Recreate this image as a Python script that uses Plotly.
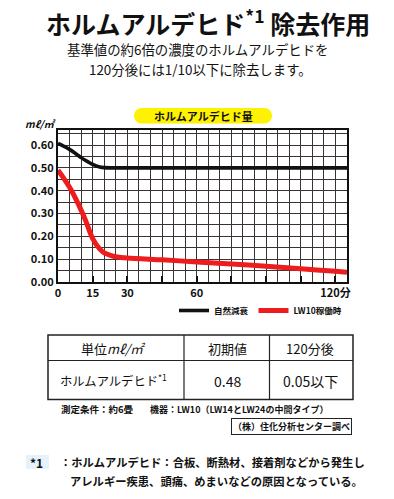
import plotly.graph_objects as go

# ---- data ----
minutes = [0, 2, 5, 8, 10, 12, 15, 18, 20, 23, 25, 30, 45, 60, 75, 90, 105, 120, 125]
natural_decay = [0.607, 0.598, 0.581, 0.560, 0.545, 0.532, 0.515, 0.504, 0.501, 0.500,
                 0.500, 0.500, 0.500, 0.500, 0.500, 0.500, 0.500, 0.500, 0.500]
lw10_running = [0.490, 0.462, 0.415, 0.358, 0.315, 0.268, 0.190, 0.145, 0.128, 0.116,
                0.111, 0.105, 0.097, 0.088, 0.079, 0.069, 0.058, 0.047, 0.043]
series_names = ["自然減衰", "LW10稼働時"]
x_tickvals = [0, 15, 30, 60, 120]
x_ticktext = ["0", "15", "30", "60", "120分"]
y_tickvals = [0.0, 0.1, 0.2, 0.3, 0.4, 0.5, 0.6]
y_ticktext = ["0.00", "0.10", "0.20", "0.30", "0.40", "0.50", "0.60"]
table_header = ["単位<i>mℓ/㎡</i>", "初期値", "120分後"]
table_row = ["ホルムアルデヒド<sup>*1</sup>", "0.48", "0.05以下"]

W, H = 394, 499
JP = "Noto Sans CJK JP"


def px(x):
    return x / W


def py(y):
    return 1 - y / H


fig = go.Figure()
fig.add_trace(go.Scatter(x=minutes, y=natural_decay, mode="lines", name=series_names[0],
                         line=dict(color="#111111", width=3.6, shape="spline", smoothing=0.8)))
fig.add_trace(go.Scatter(x=minutes, y=lw10_running, mode="lines", name=series_names[1],
                         line=dict(color="#ee1c1c", width=5, shape="spline", smoothing=0.8)))
# helper traces so the overlay axes (grid / minor ticks) exist
fig.add_trace(go.Scatter(x=[None], y=[None], xaxis="x2", yaxis="y2", showlegend=False,
                         hoverinfo="skip", mode="lines"))
fig.add_trace(go.Scatter(x=[None], y=[None], xaxis="x3", yaxis="y2", showlegend=False,
                         hoverinfo="skip", mode="lines"))

grid_c = "#3a3333"
XR, YR = [0, 125], [0, 0.666]
fig.update_layout(
    width=W, height=H, autosize=False,
    margin=dict(l=0, r=0, t=0, b=0),
    paper_bgcolor="white", plot_bgcolor="white",
    font=dict(family=JP, color="#111111"),
    showlegend=True,
    legend=dict(orientation="h", x=px(174), y=py(296), xanchor="left", yanchor="top",
                font=dict(size=8.5, family=JP, weight="bold"), itemwidth=30,
                bgcolor="rgba(0,0,0,0)"),
    xaxis=dict(domain=[px(58), px(347)], range=XR, tickmode="array", automargin=False,
               tickvals=x_tickvals, ticktext=x_ticktext, ticks="", showline=True,
               linecolor="#111", linewidth=2, mirror=True, showgrid=False, zeroline=False,
               tickfont=dict(size=11, family=JP, weight="bold", color="#111")),
    yaxis=dict(domain=[py(282), py(130)], range=YR, tickmode="array", automargin=False,
               tickvals=y_tickvals, ticktext=y_ticktext, ticks="", showline=True,
               linecolor="#111", linewidth=2, mirror=True, showgrid=False, zeroline=False,
               tickfont=dict(size=11, family=JP, weight="bold", color="#111")),
    xaxis2=dict(overlaying="x", anchor="y2", range=XR, tickmode="linear", tick0=0, dtick=5,
                showgrid=True, gridcolor=grid_c, gridwidth=1, showticklabels=False,
                ticks="", zeroline=False, showline=False, automargin=False),
    xaxis3=dict(overlaying="x", anchor="y2", range=XR, tickmode="linear", tick0=0, dtick=15,
                showgrid=False, showticklabels=False, ticks="inside", ticklen=6, tickwidth=2,
                tickcolor="#111", zeroline=False, showline=False, automargin=False),
    yaxis2=dict(overlaying="y", anchor="x2", range=YR, tickmode="linear", tick0=0,
                dtick=0.05, showgrid=True, gridcolor=grid_c, gridwidth=1,
                showticklabels=False, ticks="", zeroline=False, showline=False,
                automargin=False),
)

ann = []


def text(x, y, s, size, weight="normal", xanchor="center", color="#111111", **kw):
    ann.append(dict(x=px(x), y=py(y), xref="paper", yref="paper", text=s, showarrow=False,
                    xanchor=xanchor, yanchor="middle",
                    font=dict(size=size, family=JP, weight=weight, color=color), **kw))


# title & subtitle
text(208, 22, "ホルムアルデヒド<sup>*1</sup> 除去作用", 25, "bold")
text(198, 49.3, "基準値の約6倍の濃度のホルムアルデヒドを", 13.4)
text(200, 69, "120分後には1/10以下に除去します。", 13.4)

# yellow pill label
shapes = []


def pill(x0, y0, x1, y1, color):
    r = (y1 - y0) / 2
    k = 0.5523 * r
    pts = [
        ("M", [(x0 + r, y0)]),
        ("L", [(x1 - r, y0)]),
        ("C", [(x1 - r + k, y0), (x1, y0 + r - k), (x1, y0 + r)]),
        ("C", [(x1, y0 + r + k), (x1 - r + k, y1), (x1 - r, y1)]),
        ("L", [(x0 + r, y1)]),
        ("C", [(x0 + r - k, y1), (x0, y0 + r + k), (x0, y0 + r)]),
        ("C", [(x0, y0 + r - k), (x0 + r - k, y0), (x0 + r, y0)]),
    ]
    path = ""
    for cmd, ps in pts:
        path += cmd + " " + " ".join(f"{px(a):.5f},{py(b):.5f}" for a, b in ps) + " "
    path += "Z"
    shapes.append(dict(type="path", path=path, xref="paper", yref="paper",
                       fillcolor=color, line=dict(width=0)))


pill(134, 108, 272, 123.5, "#fff200")
text(203, 116, "ホルムアルデヒド量", 11, "bold")

# y unit
text(40, 123, "<i>mℓ/㎡</i>", 10, "bold")

# table
tl, tr, tt, tm, tb = 48, 353, 335, 360.5, 399.5
c1, c2 = 184, 269.5
for (x0, y0, x1, y1) in [(tl, tm, tr, tm), (c1, tt, c1, tb), (c2, tt, c2, tb)]:
    shapes.append(dict(type="line", xref="paper", yref="paper", x0=px(x0), y0=py(y0),
                       x1=px(x1), y1=py(y1), line=dict(color="#222", width=1.2)))
shapes.append(dict(type="rect", xref="paper", yref="paper", x0=px(tl), y0=py(tt),
                   x1=px(tr), y1=py(tb), line=dict(color="#222", width=1.5)))
col_x = [114, 227, 310]
for cx, s in zip(col_x, table_header):
    text(cx, 348.5, s, 13)
for cx, s, fs in zip(col_x, table_row, [12.3, 14, 14]):
    text(cx, 380.5, s, fs)

# notes
text(59, 409, "測定条件：約6畳", 9.5, "bold", xanchor="left")
text(148, 409, "機器：LW10（LW14とLW24の中間タイプ）", 9, "bold", xanchor="left")
text(352, 426, "（株）住化分析センター調べ", 9, "bold", xanchor="right",
     bordercolor="#222", borderwidth=1, borderpad=1)

# footnote
shapes.append(dict(type="rect", xref="paper", yref="paper", x0=px(26), y0=py(455),
                   x1=px(49), y1=py(469), fillcolor="#e3f2fb", line=dict(width=0)))
text(36, 462, "*1", 12, "bold")
text(58, 462, "：ホルムアルデヒド：合板、断熱材、接着剤などから発生し", 11.3, "bold",
     xanchor="left")
text(68, 480.5, "アレルギー疾患、頭痛、めまいなどの原因となっている。", 11.3, "bold",
     xanchor="left")

fig.update_layout(annotations=ann, shapes=shapes)
fig.write_html("out.html", config={"displayModeBar": False},
               post_script="document.body.style.margin='0';")
